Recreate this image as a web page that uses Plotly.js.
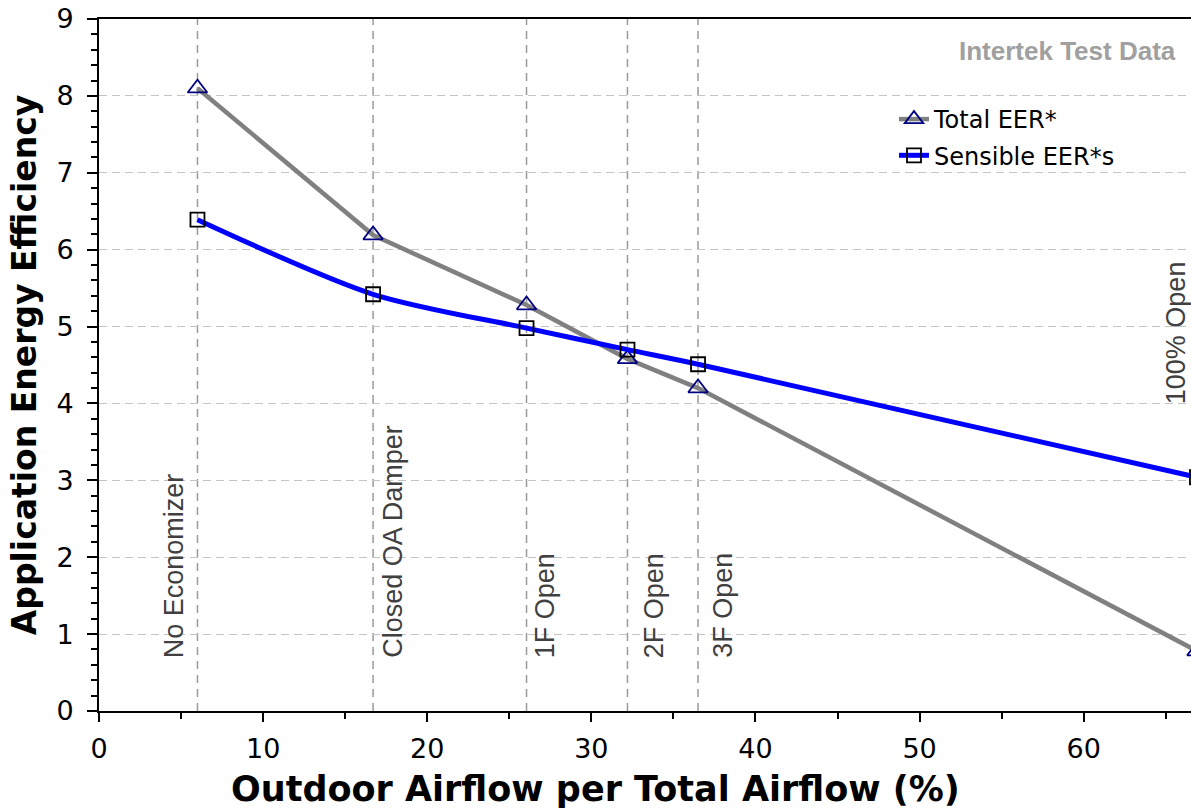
<!DOCTYPE html>
<html>
<head>
<meta charset="utf-8">
<script src="https://cdn.plot.ly/plotly-3.0.1.min.js"></script>
<style>
  html, body { margin: 0; padding: 0; overflow: hidden; background: #fff; }
  #chart { width: 1215px; height: 808px; }
</style>
</head>
<body>
<div id="chart"></div>
<script>
// Outdoor airflow fraction (%) at each economizer test condition
const outdoorAirflow = [6.0, 16.7, 26.05, 32.2, 36.5, 66.9];
const conditionNames = ['No Economizer', 'Closed OA Damper', '1F Open', '2F Open', '3F Open', '100% Open'];
// Application energy efficiency values
const totalEER = [8.1, 6.19, 5.28, 4.58, 4.2, 0.78];
const sensibleEER = [6.39, 5.42, 4.98, 4.7, 4.51, 3.04];
const seriesNames = ['Total EER*', 'Sensible EER*s'];
const xTicks = [0, 10, 20, 30, 40, 50, 60];
const yTicks = [0, 1, 2, 3, 4, 5, 6, 7, 8, 9];

const tickFont = { family: 'DejaVu Sans, Verdana, sans-serif', size: 27, color: '#000' };

const traces = [
  {
    x: outdoorAirflow, y: totalEER, name: seriesNames[0],
    type: 'scatter', mode: 'lines+markers', legendgroup: 'a',
    line: { color: '#808080', width: 4.5 },
    marker: { symbol: 'triangle-up-open', size: 17, color: '#000080', line: { width: 1.8, color: '#000080' } }
  },
  {
    x: outdoorAirflow, y: sensibleEER, name: seriesNames[1],
    type: 'scatter', mode: 'lines+markers', legendgroup: 'b',
    line: { color: '#0000ff', width: 5, shape: 'spline', smoothing: 0.8 },
    marker: { symbol: 'square-open', size: 14, color: '#000', line: { width: 1.8, color: '#000' } }
  }
];

// Vertical dashed markers at each test condition
const shapes = outdoorAirflow.map(v => ({
  type: 'line', xref: 'x', yref: 'y', x0: v, x1: v, y0: 0, y1: 9,
  line: { color: '#9a9a9a', width: 1.5, dash: '8px,6px' }, layer: 'below'
}));

// label placement: horizontal offset from its line and bottom end of the text
const labelShift = [-24, 20, 18, 26, 25, -21];
const labelBase = [0.66, 0.66, 0.66, 0.66, 0.66, 3.97];

const annotations = conditionNames.map((t, i) => ({
  text: t, x: outdoorAirflow[i], y: labelBase[i], xref: 'x', yref: 'y',
  xanchor: 'center', yanchor: 'bottom', textangle: -90, showarrow: false,
  xshift: labelShift[i],
  font: { family: 'Liberation Sans, Arial, sans-serif', size: 27, color: '#404040' }
}));

annotations.push({
  text: 'Intertek Test Data', xref: 'paper', yref: 'paper',
  x: (1178 - 99) / 1116, y: (711 - 51) / 692, xanchor: 'right', yanchor: 'middle',
  showarrow: false,
  font: { family: 'Liberation Sans, Arial, sans-serif', size: 26, color: '#a0a0a0', weight: 'bold' }
});

annotations.push({
  text: 'Outdoor Airflow per Total Airflow (%)', xref: 'paper', yref: 'paper',
  x: (595.5 - 99) / 1116, y: (711 - 789) / 692, xanchor: 'center', yanchor: 'middle',
  showarrow: false,
  font: { family: 'DejaVu Sans, Verdana, sans-serif', size: 35, color: '#000', weight: 'bold' }
});

const layout = {
  width: 1215, height: 808,
  margin: { l: 99, r: 0, t: 19, b: 97, pad: 0 },
  paper_bgcolor: '#fff', plot_bgcolor: '#fff',
  showlegend: true,
  legend: {
    x: (894 - 99) / 1116, y: (711 - 97) / 692, xanchor: 'left', yanchor: 'top',
    font: { family: 'DejaVu Sans, Verdana, sans-serif', size: 24, color: '#000' },
    bgcolor: 'rgba(0,0,0,0)', tracegroupgap: 2
  },
  xaxis: {
    range: [0, 68], tickvals: xTicks, ticktext: xTicks.map(String),
    showgrid: false, zeroline: false,
    showline: true, linecolor: '#000', linewidth: 2, mirror: true,
    ticks: 'outside', ticklen: 9, tickwidth: 1.5, tickcolor: '#000',
    minor: { dtick: 5, ticks: 'outside', ticklen: 6, tickwidth: 1.5, tickcolor: '#000', showgrid: false },
    tickfont: tickFont, ticklabelstandoff: 4
  },
  yaxis: {
    range: [0, 9], tickvals: yTicks, ticktext: yTicks.map(String),
    showgrid: true, gridcolor: '#c4c4c4', gridwidth: 1.2, griddash: '8px,5px',
    zeroline: false,
    showline: true, linecolor: '#000', linewidth: 2,
    ticks: 'outside', ticklen: 10, tickwidth: 1.5, tickcolor: '#000',
    minor: { dtick: 0.2, ticks: 'outside', ticklen: 6, tickwidth: 1.5, tickcolor: '#000', showgrid: false },
    tickfont: tickFont, ticklabelstandoff: 8,
    title: { text: 'Application Energy Efficiency', standoff: 10,
      font: { family: 'DejaVu Sans, Verdana, sans-serif', size: 33, color: '#000', weight: 'bold' } },
    automargin: false
  },
  shapes: shapes,
  annotations: annotations
};

Plotly.newPlot('chart', traces, layout, { displayModeBar: false, responsive: false });
</script>
</body>
</html>
